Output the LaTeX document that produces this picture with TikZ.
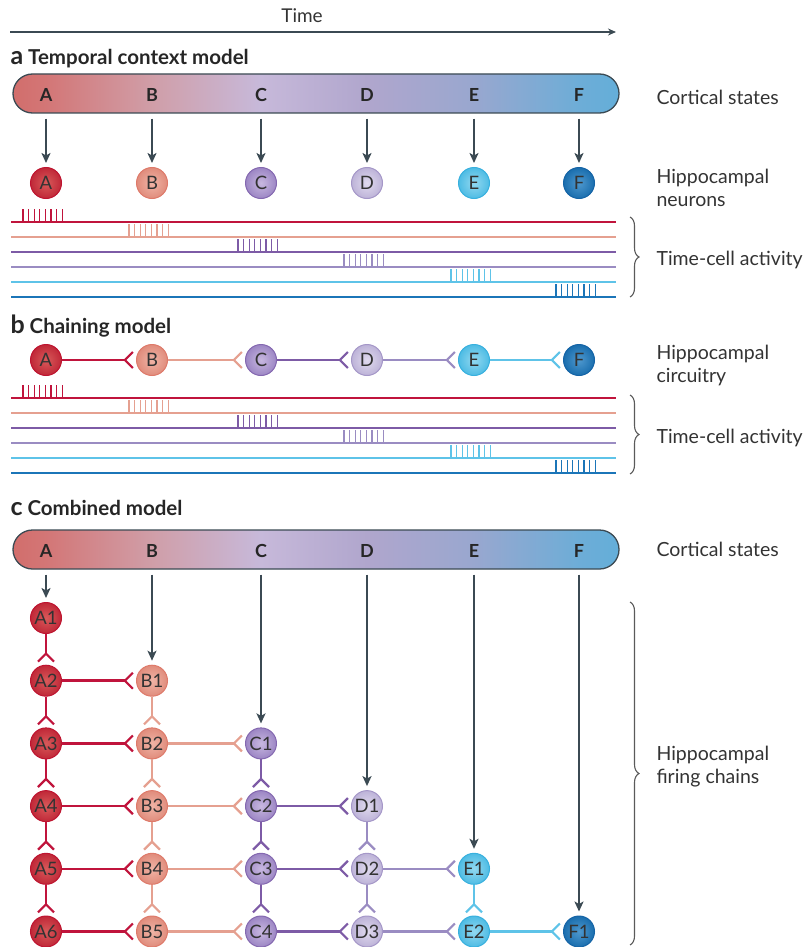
\documentclass[tikz,border=0pt]{standalone}
\usepackage{fontspec}
\setmainfont{Lato}
\usetikzlibrary{arrows.meta,positioning,decorations.pathreplacing}

\definecolor{txt}{HTML}{333333}
\definecolor{arr}{HTML}{3B4A53}
\definecolor{brc}{HTML}{5A5A5A}
% line colours
\definecolor{lA}{HTML}{C0143C}
\definecolor{lB}{HTML}{E5A090}
\definecolor{lC}{HTML}{7D5BA6}
\definecolor{lD}{HTML}{9A8CC2}
\definecolor{lE}{HTML}{5EC3E8}
\definecolor{lF}{HTML}{1B75B8}
% cell shading: inner, outer, rim
\definecolor{iA}{HTML}{D85A5A}\definecolor{oA}{HTML}{C02838}\definecolor{rA}{HTML}{BE1430}
\definecolor{iB}{HTML}{F0B4A6}\definecolor{oB}{HTML}{E08C7C}\definecolor{rB}{HTML}{DE7A6A}
\definecolor{iC}{HTML}{C8B8E0}\definecolor{oC}{HTML}{9C86C4}\definecolor{rC}{HTML}{8468B0}
\definecolor{iD}{HTML}{E0DAEE}\definecolor{oD}{HTML}{BDB3D8}\definecolor{rD}{HTML}{A597C8}
\definecolor{iE}{HTML}{92D8F0}\definecolor{oE}{HTML}{4EBCE4}\definecolor{rE}{HTML}{38B0DE}
\definecolor{iF}{HTML}{4E98CE}\definecolor{oF}{HTML}{1A6EAE}\definecolor{rF}{HTML}{1564A6}
% cortical bar
\definecolor{bar0}{HTML}{D26E6C}
\definecolor{barA}{HTML}{D37676}
\definecolor{barB}{HTML}{D09EA8}
\definecolor{barC}{HTML}{C7B9DA}
\definecolor{barD}{HTML}{B0A6CD}
\definecolor{barE}{HTML}{99A7CF}
\definecolor{barF}{HTML}{6DADD7}
\definecolor{bar1}{HTML}{64AED9}
\pgfdeclarehorizontalshading{cortex}{100bp}{color(0bp)=(bar0); color(25bp)=(bar0);
  color(27.7bp)=(barA); color(36.5bp)=(barB); color(45.4bp)=(barC); color(54.2bp)=(barD);
  color(63bp)=(barE); color(71.7bp)=(barF); color(75bp)=(bar1); color(100bp)=(bar1)}

\begin{document}
\begin{tikzpicture}[x=1pt,y=-1pt,
  every node/.style={text=txt},
  lbl/.style={anchor=west, align=left, font=\fontsize{19.5}{23}\selectfont},
  head/.style={anchor=west, font=\fontsize{20.5}{24}\selectfont\bfseries, text=black!85},
  letter/.style={font=\fontsize{18}{20}\selectfont\bfseries, text=black!85},
  bar/.style={rectangle, rounded corners=19.5pt, minimum width=606pt, minimum height=39pt,
    shading=cortex, draw=arr, line width=1.3pt},
  cell/.style={circle, minimum size=31pt, inner sep=0pt, line width=1pt,
    draw=r#1, inner color=i#1, outer color=o#1, font=\fontsize{18.5}{18}\selectfont},
  drive/.style={draw=arr, line width=2pt, -{Stealth[length=10pt,width=9pt,inset=2.5pt]},
    shorten <=5pt, shorten >=4pt},
  syn/.style={line width=2.5pt, -{Straight Barb[reversed,length=8pt,width=16pt,line width=2.2pt]},
    shorten >=2pt},
  train/.style={line width=1.8pt},
  spike/.style={line width=1.3pt},
  curly/.style={decorate, decoration={brace, amplitude=9pt}, draw=brc, line width=1.1pt},
]
\useasboundingbox (0,0) rectangle (803,947);

% time axis
\coordinate (t0) at (10,32);
\coordinate (t1) at (616,32);
\draw[draw=arr, line width=1.8pt, -{Stealth[length=8pt,width=7pt]}] (t0) -- (t1);
\node[font=\fontsize{19}{22}\selectfont] (time) at (302,16) {Time};

% a
\node[head] (tA) at (7,59) {{\fontsize{25}{24}\selectfont a}\ Temporal context model};
\node[bar] (barA) at (316,93.5) {};
\foreach \s/\xc in {A/46,B/152,C/261,D/367,E/474,F/579}{
  \node[letter] (sa\s) at (\xc,95) {\s};
  \node[cell=\s] (ha\s) at (\xc,183) {\s};
  \draw[drive] (sa\s |- barA.south) -- (ha\s);
}
\node[lbl] (csA) at (653,97) {Cortical states};
\node[lbl] (hn) at (653,188) {Hippocampal\\neurons};
\draw[curly] (630,217) -- (630,297);
\node[lbl] (tcA) at (653,260) {Time-cell activity};

% spike trains (a and b)
\foreach \yb in {222,398}{
  \foreach \s/\xc [count=\i from 0] in {A/46,B/152,C/261,D/367,E/474,F/579}{
    \draw[train, draw=l\s] (11,{\yb+15*\i}) -- (616,{\yb+15*\i});
    \foreach \k in {0,...,7}
      \draw[spike, draw=l\s] ({\xc-23+5.6*\k},{\yb+15*\i}) -- ++(0,-13);
  }
}

% b
\node[head] (tB) at (7,326) {{\fontsize{25}{24}\selectfont b}\ Chaining model};
\foreach \s/\xc in {A/46,B/152,C/261,D/367,E/474,F/579}
  \node[cell=\s] (hb\s) at (\xc,360) {\s};
\foreach \p/\q in {A/B,B/C,C/D,D/E,E/F}
  \draw[syn, draw=l\p] (hb\p) -- (hb\q);
\node[lbl] (hc) at (653,365) {Hippocampal\\circuitry};
\draw[curly] (630,395) -- (630,474);
\node[lbl] (tcB) at (653,438) {Time-cell activity};

% c
\node[head] (tC) at (7,508) {{\fontsize{25}{24}\selectfont c}\ Combined model};
\node[bar] (barC) at (316,549.5) {};
\foreach \s/\xc/\n [count=\j] in {A/46/6,B/152/5,C/261/4,D/367/3,E/474/2,F/579/1}{
  \node[letter] (sc\s) at (\xc,551) {\s};
  \foreach \k in {1,...,\n}
    \node[cell=\s] (\s\k) at (\xc,{618+62.7*(\j+\k-2)}) {\s\k};
  \draw[drive] (sc\s |- barC.south) -- (\s1);
}
% chains down each column
\foreach \a/\b/\s in {A1/A2/A,A2/A3/A,A3/A4/A,A4/A5/A,A5/A6/A,
  B1/B2/B,B2/B3/B,B3/B4/B,B4/B5/B,C1/C2/C,C2/C3/C,C3/C4/C,
  D1/D2/D,D2/D3/D,E1/E2/E}
  \draw[syn, draw=l\s] (\a) -- (\b);
% chains across rows
\foreach \a/\b/\s in {A2/B1/A,A3/B2/A,A4/B3/A,A5/B4/A,A6/B5/A,
  B2/C1/B,B3/C2/B,B4/C3/B,B5/C4/B,C2/D1/C,C3/D2/C,C4/D3/C,
  D2/E1/D,D3/E2/D,E2/F1/E}
  \draw[syn, draw=l\s] (\a) -- (\b);
\node[lbl] (csC) at (653,549) {Cortical states};
\draw[curly] (630,602) -- (630,945);
\node[lbl] (hf) at (653,767) {Hippocampal\\firing chains};
\end{tikzpicture}
\end{document}
